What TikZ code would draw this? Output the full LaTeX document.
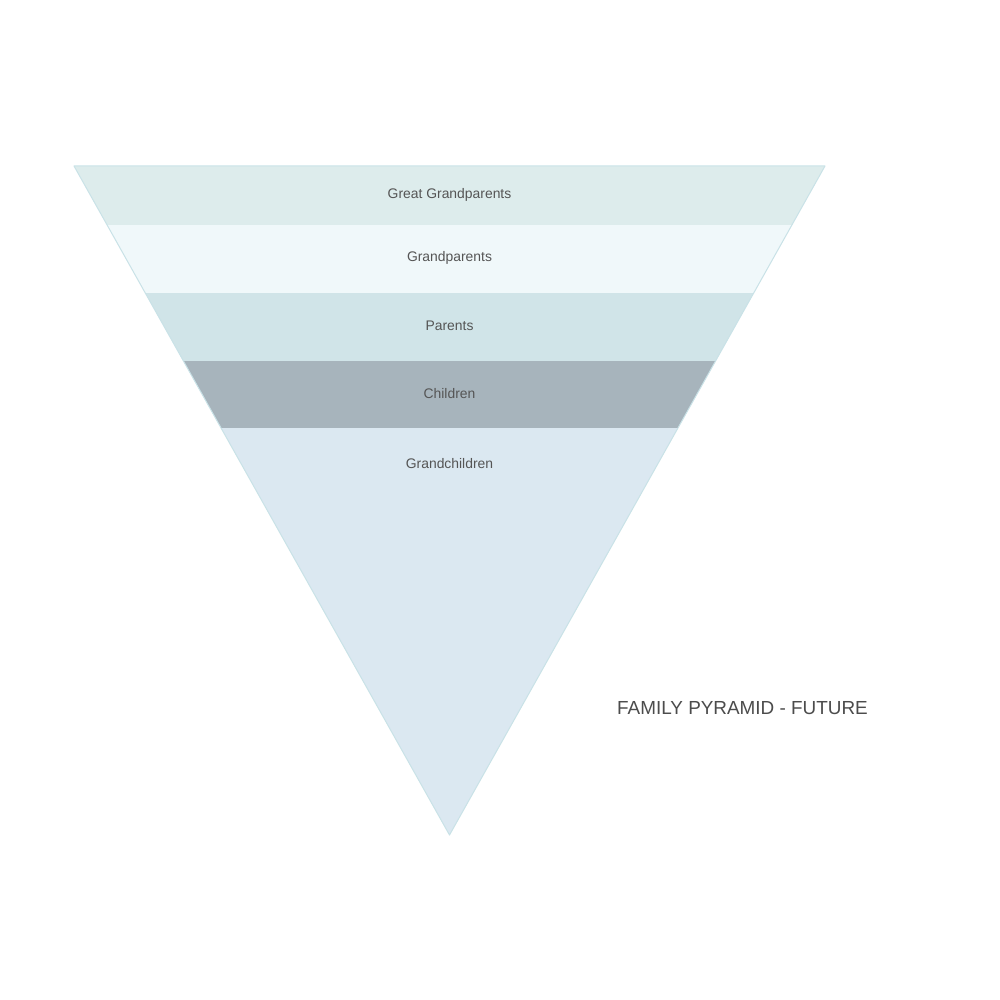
\documentclass[tikz,border=0pt]{standalone}
\usepackage{fontspec}
\setmainfont{Liberation Sans}
\usepackage{xcolor}
\usetikzlibrary{positioning}
\definecolor{bandone}{HTML}{DDECEC}
\definecolor{bandtwo}{HTML}{F0F8FA}
\definecolor{bandthree}{HTML}{D0E4E8}
\definecolor{bandfour}{HTML}{A7B4BC}
\definecolor{bandfive}{HTML}{DBE8F1}
\definecolor{edgeblue}{HTML}{C9E2E7}
\definecolor{labelgray}{HTML}{555555}

\begin{document}
\begin{tikzpicture}[x=0.5pt,y=-0.5pt,
  bandlabel/.style={text=labelgray,font=\fontsize{6.95}{8}\selectfont,inner sep=0pt},
  titlelabel/.style={text=labelgray!90!black,font=\fontsize{9.45}{11}\selectfont,inner sep=0pt}]
\useasboundingbox (0,0) rectangle (1000,1000);
\fill[white] (0,0) rectangle (1000,1000);
\coordinate (tl) at (74,166);
\coordinate (tr) at (825,166);
\coordinate (apex) at (449.5,835);
\begin{scope}
\clip (tl) -- (tr) -- (apex) -- cycle;
\fill[bandone] (0,166) rectangle (1000,225);
\fill[bandtwo] (0,225) rectangle (1000,293);
\fill[bandthree] (0,293) rectangle (1000,361);
\fill[bandfour] (0,361) rectangle (1000,428);
\fill[bandfive] (0,428) rectangle (1000,835);
\end{scope}
\draw[edgeblue,line width=0.5pt,line join=round] (tl) -- (tr) -- (apex) -- cycle;
\node[bandlabel] (greatgp) at (449.5,195) {Great Grandparents};
\node[bandlabel] (grandp) at (449.5,258) {Grandparents};
\node[bandlabel] (parents) at (449.5,326) {Parents};
\node[bandlabel] (children) at (449.5,394) {Children};
\node[bandlabel] (grandch) at (449.5,464) {Grandchildren};
\node[titlelabel] (title) at (742.5,708) {FAMILY PYRAMID - FUTURE};
\end{tikzpicture}
\end{document}
